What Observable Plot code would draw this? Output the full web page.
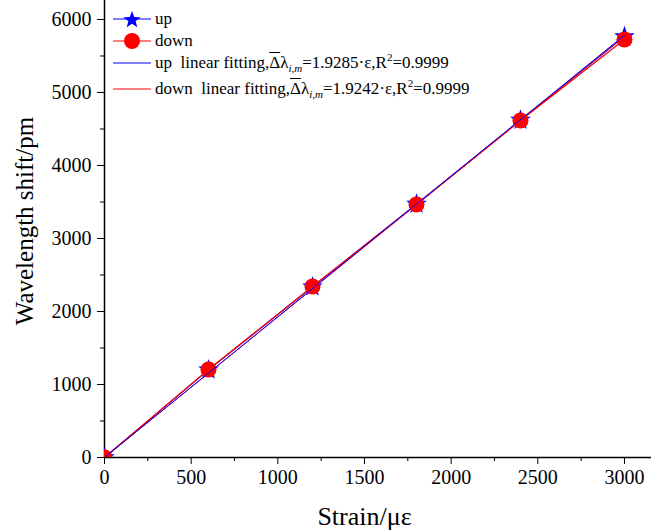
<!DOCTYPE html>
<html>
<head>
<meta charset="utf-8">
<script src="https://cdn.jsdelivr.net/npm/d3@7"></script>
<script src="https://cdn.jsdelivr.net/npm/@observablehq/plot@0.6"></script>
<style>
  html, body { margin: 0; padding: 0; background: #fff; }
  #wrap { position: relative; width: 651px; height: 532px; font-family: "Liberation Serif", "Times New Roman"; }
  #chart svg, #chart svg text { font-family: "Liberation Serif", "Times New Roman" !important; }
  .leg { position: absolute; left: 113px; font-size: 17px; color: #000; white-space: nowrap; display: flex; align-items: center; }
  .leg svg { margin-right: 4px; }
  .leg sub { font-size: 11px; vertical-align: -4px; line-height: 0; }
  .leg sup { font-size: 11px; vertical-align: 7px; line-height: 0; }
  .ob { text-decoration: overline; }
</style>
</head>
<body>
<div id="wrap">
  <div id="chart"></div>
  <div class="leg" style="top:9px"><svg width="38" height="20"><line x1="0" y1="10" x2="38" y2="10" stroke="#0000ff" stroke-width="1.2"/><polygon id="legstar" fill="#0000ff"/></svg><span>up</span></div>
  <div class="leg" style="top:31px"><svg width="38" height="20"><line x1="0" y1="10" x2="38" y2="10" stroke="#ff0000" stroke-width="1.2"/><circle cx="19" cy="10" r="8" fill="#ff0000"/></svg><span>down</span></div>
  <div class="leg" style="top:53px"><svg width="38" height="20"><line x1="0" y1="10" x2="38" y2="10" stroke="#0000ff" stroke-width="1"/></svg><span>up&nbsp; linear fitting,<span class="ob">Δ</span>λ<sub><i>i,m</i></sub>=1.9285·ε,R<sup>2</sup>=0.9999</span></div>
  <div class="leg" style="top:79px"><svg width="38" height="20"><line x1="0" y1="10" x2="38" y2="10" stroke="#ff0000" stroke-width="1"/></svg><span>down&nbsp; linear fitting,<span class="ob">Δ</span>λ<sub><i>i,m</i></sub>=1.9242·ε,R<sup>2</sup>=0.9999</span></div>
</div>
<script>
// Data
const strain = [0, 600, 1200, 1800, 2400, 3000];
const upShift = [0, 1200, 2338, 3470, 4620, 5765];
const downShift = [0, 1205, 2342, 3466, 4616, 5726];
// Fit lines (endpoints from legend slopes, through origin)
const fitStrain = [0, 3000];
const upFitShift = [0, 5785.5];
const downFitShift = [0, 5772.6];
const xMajor = [0, 500, 1000, 1500, 2000, 2500, 3000];
const xMinor = [250, 750, 1250, 1750, 2250, 2750];
const yMajor = [0, 1000, 2000, 3000, 4000, 5000, 6000];
const yMinor = [500, 1500, 2500, 3500, 4500, 5500];

const up = strain.map((s, i) => ({x: s, y: upShift[i]}));
const down = strain.map((s, i) => ({x: s, y: downShift[i]}));
const upFit = fitStrain.map((s, i) => ({x: s, y: upFitShift[i]}));
const downFit = fitStrain.map((s, i) => ({x: s, y: downFitShift[i]}));

// legend star
(function(){
  const pts = [];
  for (let k = 0; k < 10; k++) {
    const r = k % 2 === 0 ? 9 : 3.8;
    const a = -Math.PI/2 + k*Math.PI/5;
    pts.push((19 + r*Math.cos(a)).toFixed(2) + "," + (11 + r*Math.sin(a)).toFixed(2));
  }
  document.getElementById("legstar").setAttribute("points", pts.join(" "));
})();

const fmt = d3.format("d");
const chart = Plot.plot({
  width: 651,
  height: 532,
  marginLeft: 104,
  marginRight: 0,
  marginTop: 0,
  marginBottom: 75,
  style: {fontFamily: "'Liberation Serif', 'Times New Roman'", fontSize: "20px", color: "#000", background: "#fff"},
  x: {domain: [0, 3156]},
  y: {domain: [0, 6260]},
  marks: [
    Plot.axisX({ticks: xMajor, tickSize: 7, tickPadding: 5, tickFormat: fmt, label: null, fontSize: 20}),
    Plot.axisX({ticks: xMinor, tickSize: 4, tickFormat: () => "", label: null}),
    Plot.axisY({ticks: yMajor, tickSize: 7, tickPadding: 6, tickFormat: fmt, label: null, fontSize: 20}),
    Plot.axisY({ticks: yMinor, tickSize: 4, tickFormat: () => "", label: null}),
    Plot.ruleX([0], {strokeWidth: 1.5}),
    Plot.ruleY([0], {strokeWidth: 1.5}),
    Plot.line(up, {x: "x", y: "y", stroke: "#0000ff", strokeWidth: 1.2, clip: true}),
    Plot.dot(up, {x: "x", y: "y", symbol: "star", r: 6.5, fill: "#0000ff", stroke: "none", clip: true}),
    Plot.line(down, {x: "x", y: "y", stroke: "#ff0000", strokeWidth: 1.2, clip: true}),
    Plot.dot(down, {x: "x", y: "y", symbol: "circle", r: 8, fill: "#ff0000", stroke: "none", clip: true}),
    Plot.line(downFit, {x: "x", y: "y", stroke: "#ff0000", strokeWidth: 1, clip: true}),
    Plot.line(upFit, {x: "x", y: "y", stroke: "#0000ff", strokeWidth: 1, clip: true}),
    Plot.text(["Strain/με"], {x: () => 1500, frameAnchor: "bottom", lineAnchor: "middle", dy: 59, fontSize: 26}),
    Plot.text(["Wavelength shift/pm"], {frameAnchor: "left", textAnchor: "middle", lineAnchor: "middle", dx: -80, dy: -8, rotate: -90, fontSize: 25})
  ]
});
document.getElementById("chart").appendChild(chart);
</script>
</body>
</html>
